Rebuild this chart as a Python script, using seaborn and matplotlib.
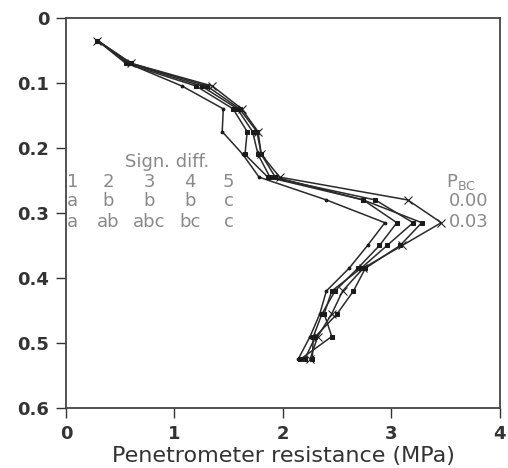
import numpy as np
import pandas as pd
import seaborn as sns
import matplotlib.pyplot as plt

depth = [0.035, 0.07, 0.105, 0.14, 0.175, 0.21, 0.245, 0.28, 0.315, 0.35, 0.385, 0.42, 0.455, 0.49, 0.525]
treat1 = [0.29, 0.57, 1.07, 1.45, 1.44, 1.63, 1.78, 2.40, 2.94, 2.78, 2.61, 2.40, 2.34, 2.25, 2.14]
treat2 = [0.29, 0.55, 1.20, 1.54, 1.67, 1.65, 1.86, 2.74, 3.05, 2.89, 2.69, 2.48, 2.36, 2.28, 2.27]
treat3 = [0.29, 0.58, 1.25, 1.58, 1.72, 1.77, 1.88, 2.85, 3.20, 2.96, 2.72, 2.45, 2.38, 2.45, 2.16]
treat4 = [0.29, 0.60, 1.30, 1.60, 1.76, 1.80, 1.93, 2.74, 3.28, 3.08, 2.76, 2.65, 2.50, 2.30, 2.20]
treat5 = [0.29, 0.60, 1.35, 1.62, 1.77, 1.80, 1.97, 3.15, 3.46, 3.10, 2.74, 2.55, 2.45, 2.32, 2.25]
series_names = ['1', '2', '3', '4', '5']

sig_row1 = ['a', 'b', 'b', 'b', 'c']
sig_row2 = ['a', 'ab', 'abc', 'bc', 'c']
p_values = ['0.00', '0.03']

xticks = [0, 1, 2, 3, 4]
yticks = [0, 0.1, 0.2, 0.3, 0.4, 0.5, 0.6]
ytick_labels = ['0', '0.1', '0.2', '0.3', '0.4', '0.5', '0.6']


def main():
    sns.set_style('ticks')
    plt.rcParams['font.family'] = ['DejaVu Sans']

    fig = plt.figure(figsize=(5.08, 4.68), dpi=100)
    ax = fig.add_axes([0.130, 0.128, 0.854, 0.834])

    markers = ['.', 's', 's', 's', 'x']
    sizes = [4, 3.5, 3.5, 3.5, 6]
    for name, vals, mk, ms in zip(series_names, [treat1, treat2, treat3, treat4, treat5], markers, sizes):
        df = pd.DataFrame({'Resistance': vals, 'Depth': depth})
        sns.lineplot(data=df, x='Resistance', y='Depth', sort=False, estimator=None,
                     orient='y', color='#2a2a2a', linewidth=1.1, marker=mk,
                     markersize=ms, markeredgecolor='#1a1a1a', markerfacecolor='#1a1a1a',
                     ax=ax)

    ax.set_xlim(0, 4)
    ax.set_ylim(0.6, 0)
    ax.set_xticks(xticks)
    ax.set_yticks(yticks)
    ax.set_yticklabels(ytick_labels)
    ax.tick_params(labelsize=13, colors='#333333', length=7, width=1, pad=5)
    for lab in ax.get_xticklabels() + ax.get_yticklabels():
        lab.set_fontweight('bold')
    for sp in ax.spines.values():
        sp.set_visible(True)
        sp.set_color('#444444')
        sp.set_linewidth(1.3)
    ax.set_xlabel('Penetrometer resistance (MPa)', fontsize=16, color='#333333', labelpad=2)
    ax.set_ylabel('')

    txt = dict(color='#8a8a8a', fontsize=13)
    ax.text(0.93, 0.222, 'Sign. diff.', ha='center', va='center', **txt)
    col_x = [0.06, 0.39, 0.77, 1.14, 1.50]
    for cx, n, a, b in zip(col_x, series_names, sig_row1, sig_row2):
        ax.text(cx, 0.252, n, ha='center', va='center', **txt)
        ax.text(cx, 0.282, a, ha='center', va='center', **txt)
        ax.text(cx, 0.314, b, ha='center', va='center', **txt)
    ax.text(3.50, 0.252, 'P$_{\\mathregular{BC}}$', ha='left', va='center', **txt)
    ax.text(3.53, 0.282, p_values[0], ha='left', va='center', **txt)
    ax.text(3.53, 0.314, p_values[1], ha='left', va='center', **txt)

    plt.savefig('out.png', dpi=100)
    plt.close()


if __name__ == "__main__":
    main()
